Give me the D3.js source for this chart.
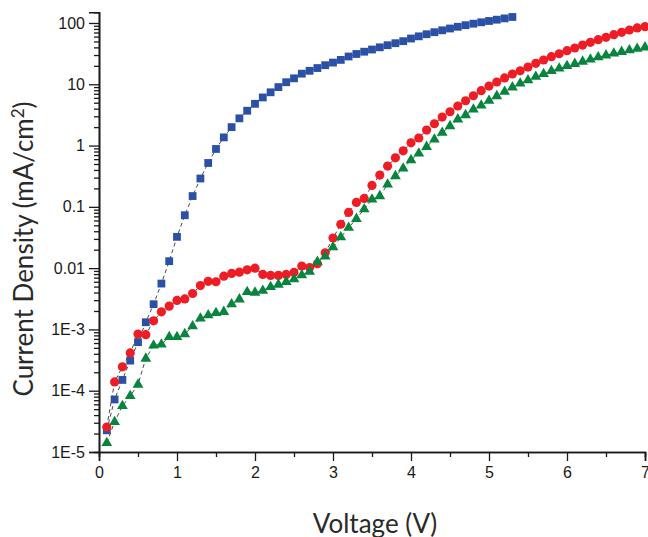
<!DOCTYPE html>
<html>
<head>
<meta charset="utf-8">
<script src="https://cdn.jsdelivr.net/npm/d3@7/dist/d3.min.js"></script>
<style>
  body { margin: 0; background: #fff; }
</style>
</head>
<body>
<div id="canvas"></div>
<script>
// voltage steps (V)
var voltsBlue = d3.range(1, 54).map(function (i) { return i / 10; });   // 0.1 .. 5.3
var voltsRed = d3.range(1, 71).map(function (i) { return i / 10; });    // 0.1 .. 7.0
var voltsGreen = d3.range(1, 71).map(function (i) { return i / 10; });  // 0.1 .. 7.0

// current density (mA/cm2)
var blueJ = [2.26e-5, 7.2e-5, 1.5e-4, 3.1e-4, 6.2e-4, 1.31e-3, 2.58e-3, 5.6e-3, 0.013, 0.0324,
    0.073, 0.15, 0.29, 0.52, 0.88, 1.36, 2.0, 2.78, 3.7, 4.8,
    6.1, 7.4, 9.0, 10.8, 12.5, 14.9, 16.6, 18.4, 20.5, 22.6,
    25.0, 28.4, 31.2, 34.0, 36.9, 40.1, 43.4, 46.8, 50.5, 55.8,
    60.6, 65.6, 70.8, 76.0, 81.3, 86.7, 92.1, 97.4, 102.7, 107.8,
    113.2, 118.9, 125.3];

var redJ = [2.56e-5, 1.39e-4, 2.45e-4, 4.14e-4, 8.4e-4, 8.2e-4, 1.38e-3, 1.94e-3, 2.4e-3, 2.97e-3,
    3.15e-3, 3.86e-3, 5.2e-3, 6.1e-3, 6.0e-3, 7.4e-3, 8.2e-3, 8.6e-3, 9.4e-3, 0.0100,
    7.9e-3, 7.6e-3, 7.6e-3, 7.9e-3, 8.5e-3, 0.0108, 0.0102, 0.0118, 0.0178, 0.0309,
    0.052, 0.081, 0.118, 0.137, 0.224, 0.33, 0.462, 0.632, 0.82, 1.11,
    1.33, 1.79, 2.27, 2.92, 3.56, 4.42, 5.39, 6.5, 7.85, 9.36,
    10.9, 12.7, 14.7, 16.6, 19.1, 22.0, 24.9, 28.2, 31.5, 35.3,
    39.1, 43.7, 48.4, 53.4, 58.4, 64.4, 70.5, 76.9, 83.0, 87.0];

var greenJ = [1.41e-5, 3.1e-5, 5.65e-5, 8.2e-5, 1.26e-4, 3.35e-4, 5.5e-4, 5.7e-4, 7.55e-4, 7.55e-4,
    8.4e-4, 1.13e-3, 1.51e-3, 1.71e-3, 1.86e-3, 1.94e-3, 2.58e-3, 3.1e-3, 4.1e-3, 4.0e-3,
    4.3e-3, 4.95e-3, 5.4e-3, 5.98e-3, 6.6e-3, 7.7e-3, 8.8e-3, 0.0127, 0.0155, 0.022,
    0.032, 0.0458, 0.0638, 0.0918, 0.132, 0.150, 0.233, 0.318, 0.425, 0.58,
    0.746, 0.955, 1.26, 1.62, 2.08, 2.68, 3.15, 3.9, 4.53, 5.39,
    6.43, 7.56, 8.92, 10.3, 11.7, 13.3, 14.8, 16.5, 18.1, 19.9,
    21.6, 23.5, 25.5, 27.7, 29.7, 31.8, 33.9, 36.0, 38.0, 40.1];

var xTicks = [0, 1, 2, 3, 4, 5, 6, 7];
var xMinorTicks = [0.5, 1.5, 2.5, 3.5, 4.5, 5.5, 6.5];
var yTicks = [1e-5, 1e-4, 1e-3, 0.01, 0.1, 1, 10, 100];
var yTickLabels = ["1E-5", "1E-4", "1E-3", "0.01", "0.1", "1", "10", "100"];

var width = 648;
var height = 537;

var svg = d3.select("#canvas")
    .append("svg")
    .attr("width", width)
    .attr("height", height);

var x = d3.scaleLinear().domain([0, 7]).range([99, 645]);
var y = d3.scaleLog().domain([1e-5, 150]).range([452, 12.2]);

// minor log ticks 2..9 in each decade
var yMinorTicks = [];
yTicks.forEach(function (t) {
    for (var k = 2; k <= 9; k++) {
        if (t * k <= 150) yMinorTicks.push(t * k);
    }
});

// axes
var yMinor = svg.append("g")
    .attr("transform", "translate(99,0)")
    .call(d3.axisLeft(y).tickValues(yMinorTicks).tickSize(5).tickFormat(""));
var yMajor = svg.append("g")
    .attr("transform", "translate(99,0)")
    .call(d3.axisLeft(y).tickValues(yTicks).tickSize(10).tickPadding(4)
        .tickFormat(function (d, i) { return yTickLabels[i]; }));

var xMinor = svg.append("g")
    .attr("transform", "translate(0,452)")
    .call(d3.axisBottom(x).tickValues(xMinorTicks).tickSize(5).tickFormat(""));
var xMajor = svg.append("g")
    .attr("transform", "translate(0,452)")
    .call(d3.axisBottom(x).tickValues(xTicks).tickSize(9).tickPadding(6)
        .tickFormat(d3.format("d")));

svg.selectAll(".domain").attr("stroke", "#1a1a1a").attr("stroke-width", 1.6);
svg.selectAll(".tick line").attr("stroke", "#1a1a1a").attr("stroke-width", 1.3);
svg.selectAll(".tick text")
    .attr("fill", "#1a1a1a")
    .style("font-family", "'Liberation Sans', Arial, sans-serif")
    .style("font-size", "16px");

// axis titles
svg.append("text")
    .attr("x", 375)
    .attr("y", 533)
    .attr("text-anchor", "middle")
    .style("font-family", "Lato, 'Open Sans', sans-serif")
    .style("font-size", "26px")
    .attr("fill", "#2a2a2a")
    .text("Voltage (V)");

var yTitle = svg.append("text")
    .attr("transform", "translate(33,249) rotate(-90)")
    .attr("text-anchor", "middle")
    .style("font-family", "Lato, 'Open Sans', sans-serif")
    .style("font-size", "26px")
    .attr("fill", "#2a2a2a");
yTitle.append("tspan").text("Current Density (mA/cm");
yTitle.append("tspan").attr("dy", -9).style("font-size", "17px").text("2");
yTitle.append("tspan").attr("dy", 9).text(")");

// series
var series = [
    { v: voltsBlue, j: blueJ, color: "#2b51a6", shape: "square" },
    { v: voltsRed, j: redJ, color: "#ee1d25", shape: "circle" },
    { v: voltsGreen, j: greenJ, color: "#07843d", shape: "triangle" }
];

var line = d3.line()
    .x(function (d) { return x(d[0]); })
    .y(function (d) { return y(d[1]); });

series.forEach(function (s) {
    var pts = s.v.map(function (v, i) { return [v, s.j[i]]; });

    svg.append("path")
        .datum(pts)
        .attr("d", line)
        .attr("fill", "none")
        .attr("stroke", "#4a4a4a")
        .attr("stroke-width", 1)
        .attr("stroke-dasharray", "4,3");

    var g = svg.append("g");
    if (s.shape === "square") {
        g.selectAll("rect").data(pts).enter().append("rect")
            .attr("x", function (d) { return x(d[0]) - 3.9; })
            .attr("y", function (d) { return y(d[1]) - 3.9; })
            .attr("width", 7.8)
            .attr("height", 7.8)
            .attr("fill", s.color);
    } else if (s.shape === "circle") {
        g.selectAll("circle").data(pts).enter().append("circle")
            .attr("cx", function (d) { return x(d[0]); })
            .attr("cy", function (d) { return y(d[1]); })
            .attr("r", 4.6)
            .attr("fill", s.color);
    } else {
        g.selectAll("path").data(pts).enter().append("path")
            .attr("d", d3.symbol().type(d3.symbolTriangle).size(50))
            .attr("transform", function (d) { return "translate(" + x(d[0]) + "," + y(d[1]) + ")"; })
            .attr("fill", s.color);
    }
});
</script>
</body>
</html>
